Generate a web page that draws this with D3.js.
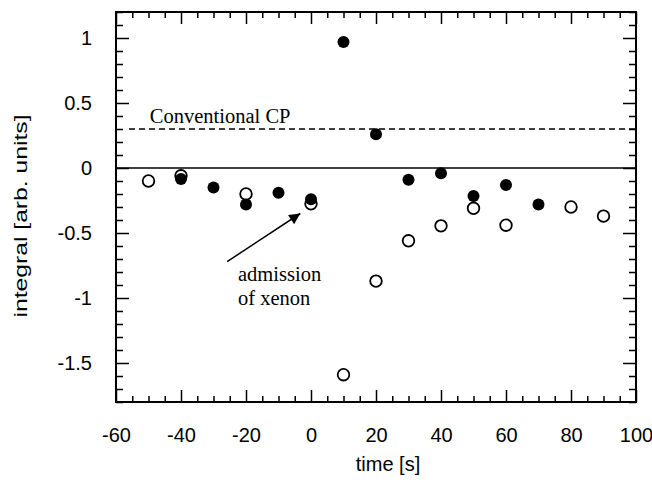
<!DOCTYPE html>
<html>
<head>
<meta charset="utf-8">
<script src="https://cdn.jsdelivr.net/npm/d3@7"></script>
<style>
  html, body { margin: 0; padding: 0; background: #fff; }
  svg { display: block; }
</style>
</head>
<body>
<svg id="chart" width="652" height="488"></svg>
<script>
// ---- data ----
const filledTime = [-40, -30, -20, -10, 0, 10, 20, 30, 40, 50, 60, 70];
const filledValue = [-0.085, -0.15, -0.28, -0.19, -0.24, 0.97, 0.26, -0.09, -0.04, -0.215, -0.13, -0.28];
const openTime = [-50, -40, -20, 0, 10, 20, 30, 40, 50, 60, 80, 90];
const openValue = [-0.1, -0.06, -0.2, -0.275, -1.59, -0.87, -0.56, -0.445, -0.31, -0.44, -0.3, -0.37];
const xTicks = [-60, -40, -20, 0, 20, 40, 60, 80, 100];
const yTicks = [-1.5, -1, -0.5, 0, 0.5, 1];
const conventionalCP = 0.3;
const conventionalStart = -56;
const arrowFrom = [-25.8, -0.72];
const arrowTo = [-3.3, -0.35];

// ---- layout ----
const svg = d3.select("#chart");
const L = 116, R = 636, T = 12, B = 402;
const x = d3.scaleLinear().domain([-60, 100]).range([L, R]);
const y = d3.scaleLinear().domain([-1.8, 1.2]).range([B, T]);

const xMinor = d3.range(-60, 100.01, 5).filter(v => !xTicks.includes(v));
const yMinor = d3.range(-18, 12.01, 1).map(v => +(v / 10).toFixed(1)).filter(v => !yTicks.includes(v));

const fmt = d => (d === 0 ? "0" : String(d).replace("−", "-"));
const sans = "'Liberation Sans', Arial, Helvetica, sans-serif";
const serif = "'Liberation Serif', 'Times New Roman', serif";

function styleAxis(g) {
  g.select(".domain").remove();
  g.selectAll(".tick line").attr("stroke", "#000").attr("stroke-width", 1.5);
  g.selectAll("text").attr("fill", "#000").attr("font-family", sans).attr("font-size", 20);
}

// bottom
svg.append("g").attr("transform", `translate(0,${B})`)
  .call(d3.axisBottom(x).tickValues(xTicks).tickSize(-12).tickPadding(26).tickFormat(fmt))
  .call(styleAxis);
svg.append("g").attr("transform", `translate(0,${B})`)
  .call(d3.axisBottom(x).tickValues(xMinor).tickSize(-6).tickFormat(""))
  .call(styleAxis);
// top
svg.append("g").attr("transform", `translate(0,${T})`)
  .call(d3.axisTop(x).tickValues(xTicks).tickSize(-12).tickFormat(""))
  .call(styleAxis);
svg.append("g").attr("transform", `translate(0,${T})`)
  .call(d3.axisTop(x).tickValues(xMinor).tickSize(-6).tickFormat(""))
  .call(styleAxis);
// left
svg.append("g").attr("transform", `translate(${L},0)`)
  .call(d3.axisLeft(y).tickValues(yTicks).tickSize(-13).tickPadding(24).tickFormat(fmt))
  .call(styleAxis);
svg.append("g").attr("transform", `translate(${L},0)`)
  .call(d3.axisLeft(y).tickValues(yMinor).tickSize(-7).tickFormat(""))
  .call(styleAxis);
// right
svg.append("g").attr("transform", `translate(${R},0)`)
  .call(d3.axisRight(y).tickValues(yTicks).tickSize(-13).tickFormat(""))
  .call(styleAxis);
svg.append("g").attr("transform", `translate(${R},0)`)
  .call(d3.axisRight(y).tickValues(yMinor).tickSize(-7).tickFormat(""))
  .call(styleAxis);

// frame
svg.append("rect").attr("x", L).attr("y", T).attr("width", R - L).attr("height", B - T)
  .attr("fill", "none").attr("stroke", "#000").attr("stroke-width", 2);

// zero line
svg.append("line").attr("x1", x(-60)).attr("x2", x(100)).attr("y1", y(0)).attr("y2", y(0))
  .attr("stroke", "#000").attr("stroke-width", 1.5);

// conventional CP dashed line
svg.append("line").attr("x1", x(conventionalStart)).attr("x2", x(100))
  .attr("y1", y(conventionalCP)).attr("y2", y(conventionalCP))
  .attr("stroke", "#000").attr("stroke-width", 1.5).attr("stroke-dasharray", "6,4");
svg.append("text").attr("x", x(-49.6)).attr("y", y(conventionalCP) - 6.5)
  .attr("font-family", serif).attr("font-size", 20.5).attr("fill", "#000")
  .text("Conventional CP");

// open circles (drawn first)
svg.append("g").selectAll("circle").data(openTime.map((t, i) => [t, openValue[i]])).join("circle")
  .attr("cx", d => x(d[0])).attr("cy", d => y(d[1])).attr("r", 5.8)
  .attr("fill", "#fff").attr("stroke", "#000").attr("stroke-width", 1.8);

// filled circles
svg.append("g").selectAll("circle").data(filledTime.map((t, i) => [t, filledValue[i]])).join("circle")
  .attr("cx", d => x(d[0])).attr("cy", d => y(d[1])).attr("r", 6)
  .attr("fill", "#000");

// arrow annotation
svg.append("defs").append("marker").attr("id", "ah")
  .attr("viewBox", "0 0 10 10").attr("refX", 10).attr("refY", 5)
  .attr("markerWidth", 16).attr("markerHeight", 11).attr("markerUnits", "userSpaceOnUse")
  .attr("orient", "auto")
  .append("path").attr("d", "M0,0 L10,5 L0,10 Z").attr("fill", "#000");
svg.append("line")
  .attr("x1", x(arrowFrom[0])).attr("y1", y(arrowFrom[1]))
  .attr("x2", x(arrowTo[0])).attr("y2", y(arrowTo[1]))
  .attr("stroke", "#000").attr("stroke-width", 1.5).attr("marker-end", "url(#ah)");

const ann = svg.append("text").attr("font-family", serif).attr("font-size", 20.5).attr("fill", "#000");
ann.append("tspan").attr("x", 238).attr("y", 281).text("admission");
ann.append("tspan").attr("x", 238).attr("y", 305).text("of xenon");

// axis titles
svg.append("text").attr("x", 388).attr("y", 471).attr("text-anchor", "middle")
  .attr("font-family", sans).attr("font-size", 20).attr("fill", "#000").text("time [s]");
svg.append("text").attr("transform", `translate(27,216) rotate(-90) scale(1.3,1)`)
  .attr("text-anchor", "middle")
  .attr("font-family", sans).attr("font-size", 19).attr("fill", "#000").text("integral [arb. units]");
</script>
</body>
</html>
